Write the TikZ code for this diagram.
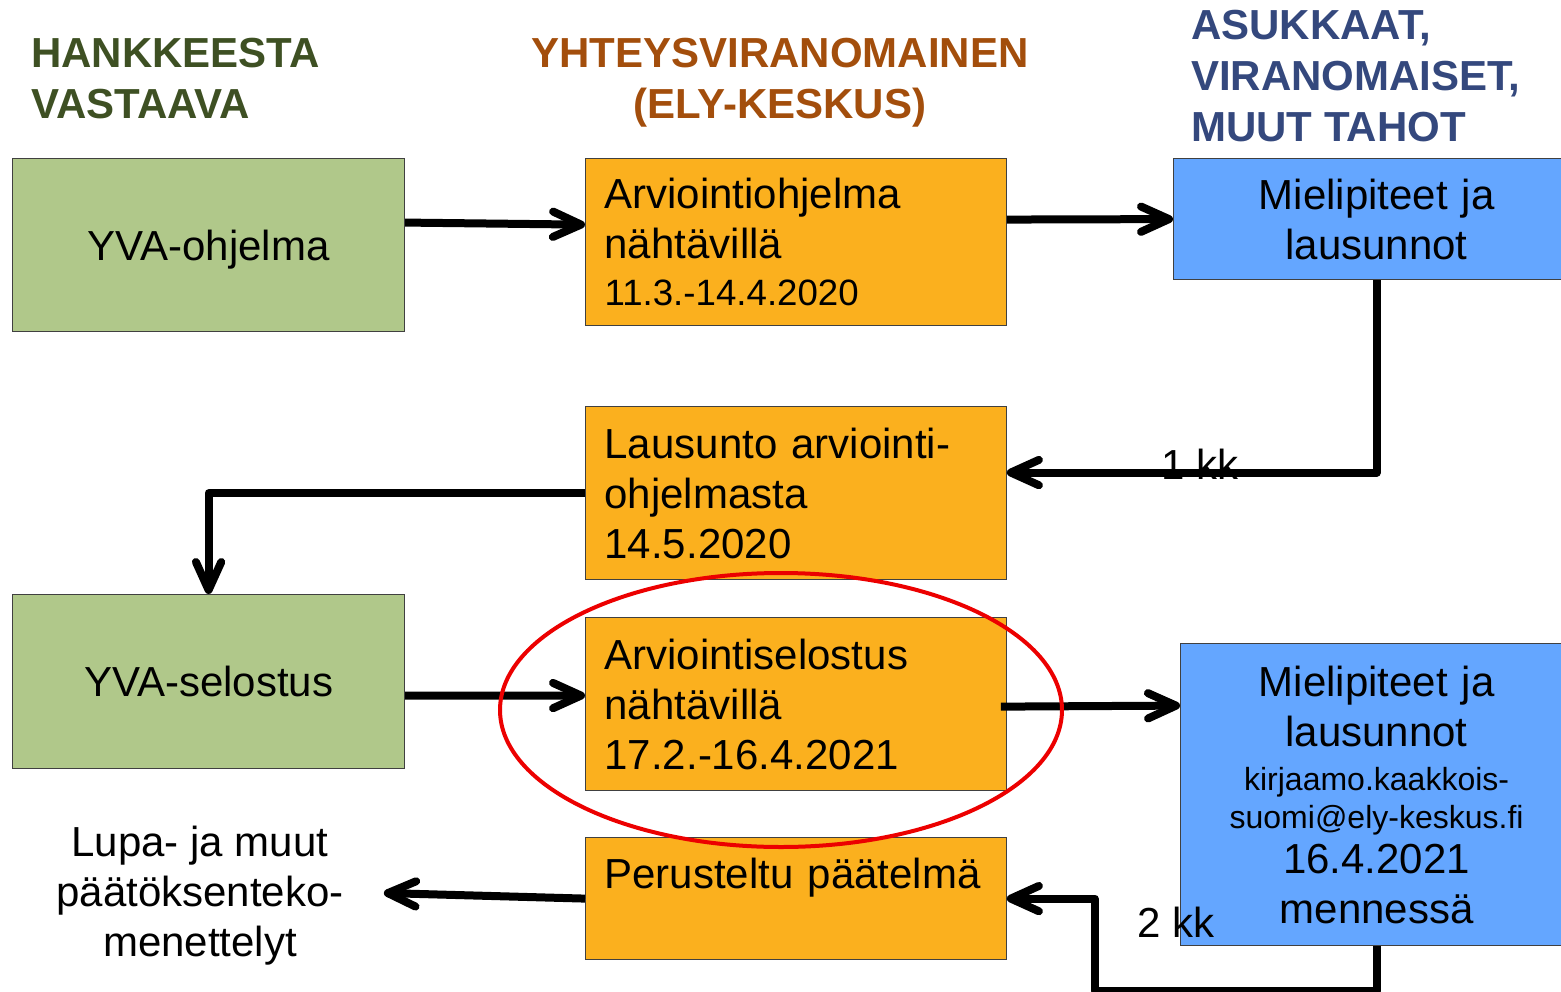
\documentclass[tikz,border=0pt]{standalone}
\usepackage{fontspec}
\setmainfont{Liberation Sans}
\usetikzlibrary{arrows.meta}

\definecolor{boxgreen}{RGB}{176,200,138}
\definecolor{boxorange}{RGB}{251,176,30}
\definecolor{boxblue}{RGB}{100,166,255}
\definecolor{headgreen}{RGB}{62,80,35}
\definecolor{headorange}{RGB}{163,78,12}
\definecolor{headblue}{RGB}{52,72,125}
\definecolor{ringred}{RGB}{236,0,0}

\newcommand{\boxfont}{\fontsize{31.5}{37.5}\selectfont}
\newcommand{\datefont}{\fontsize{27.5}{35}\selectfont}
\newcommand{\mailfont}{\fontsize{24}{29}\selectfont}
\newcommand{\headfont}{\fontsize{31.5}{38.25}\selectfont\bfseries}

\begin{document}
\begin{tikzpicture}[x=0.75pt,y=-0.75pt,
  box/.style={draw=black!75,line width=0.9pt,anchor=north west,inner ysep=0pt,font=\boxfont},
  greenbox/.style={box,fill=boxgreen,minimum width=294pt,minimum height=#1,align=center,text depth=0pt},
  orangebox/.style={box,fill=boxorange,text width=287pt,inner xsep=14.25pt,minimum height=#1,align=left},
  bluebox/.style={box,fill=boxblue,text width=#1,inner xsep=7pt,align=center},
  header/.style={font=\headfont,inner sep=0pt},
  label/.style={font=\boxfont,inner sep=0pt},
  flow/.style={line width=6pt,line join=round,-{Straight Barb[length=21pt,width=19pt,line cap=round,line join=round]}},
  ring/.style={draw=ringred,line width=3pt}]
\useasboundingbox (0,0) rectangle (1561,992);

\node[header,text=headgreen,anchor=north west,align=left] (hanke) at (31,38) {HANKKEESTA\\VASTAAVA};
\node[header,text=headorange,anchor=north,align=center] (ely) at (780,38) {YHTEYSVIRANOMAINEN\\(ELY-KESKUS)};
\node[header,text=headblue,anchor=north west,align=left] (muut) at (1191,10) {ASUKKAAT,\\VIRANOMAISET,\\MUUT TAHOT};

\node[greenbox=129.75pt] (ohj) at (12,158) {YVA-ohjelma};
\node[orangebox=125.25pt] (nah1) at (585,158) {Arviointiohjelma\\nähtävillä\\[-2.25pt]{\datefont 11.3.-14.4.2020}};
\node[bluebox=290.5pt,minimum height=90.75pt] (miel1) at (1173,158) {Mielipiteet ja\\lausunnot};

\node[orangebox=129.75pt] (laus) at (585,406) {Lausunto arviointi-\\ohjelmasta\\14.5.2020};

\node[greenbox=130.5pt] (sel) at (12,594) {YVA-selostus};
\node[orangebox=129.75pt] (nah2) at (585,617) {Arviointiselostus\\nähtävillä\\17.2.-16.4.2021};
\node[bluebox=280pt,minimum height=226.5pt] (miel2) at (1180,643) {Mielipiteet ja\\lausunnot\\[-4.5pt]{\mailfont kirjaamo.kaakkois-}\\[-9pt]{\mailfont suomi@ely-keskus.fi}\\[-3.75pt]16.4.2021\\mennessä};

\node[orangebox=91.5pt] (paat) at (585,837) {Perusteltu päätelmä\\ ~};
\node[label,align=center] (lupa) at (200,896) {Lupa- ja muut\\päätöksenteko-\\menettelyt};

\draw[flow] ([yshift=16.9pt]ohj.east) -- ([yshift=13.1pt]nah1.west);
\draw[flow] ([yshift=16.9pt]nah1.east) -- (miel1.west);
\draw[flow] (miel1.south) |- ([yshift=15.4pt]laus.east);
\draw[flow] (laus.west) -| (sel.north);
\draw[flow] ([yshift=-10.5pt]sel.east) -- ([yshift=6.4pt]nah2.west);
\draw[flow] ([xshift=-4.5pt,yshift=-1.9pt]nah2.east) -- ([yshift=66.75pt]miel2.west);
\draw[flow] (miel2.south) -- ++(0,45) -| ([xshift=66pt]paat.east) -- (paat.east);
\draw[flow] (paat.west) -- ([xshift=30pt,yshift=2.25pt]lupa.east);

\node[label] (kk1) at (1200,464) {1 kk};
\node[label] (kk2) at (1176,922) {2 kk};

\draw[ring] (781,710) ellipse [x radius=210.75pt,y radius=102.75pt];
\end{tikzpicture}
\end{document}
